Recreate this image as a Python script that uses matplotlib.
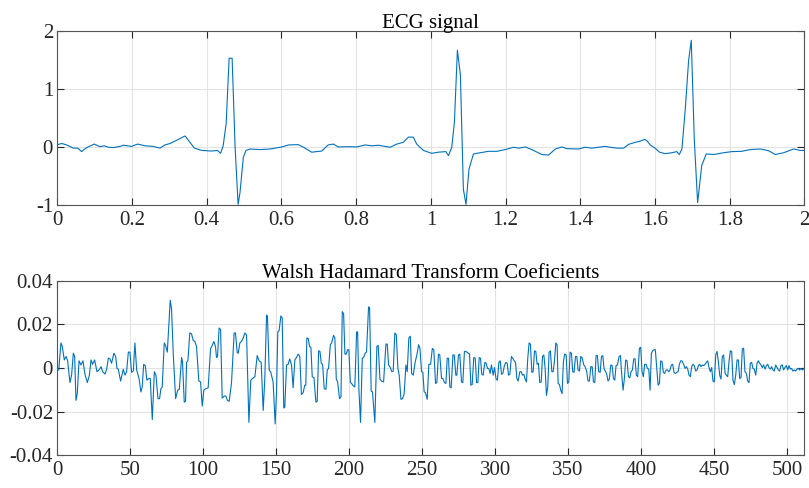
import numpy as np
import matplotlib
matplotlib.use("Agg")
import matplotlib.pyplot as plt

plt.rcParams["font.family"] = ["Liberation Serif", "DejaVu Serif"]
plt.rcParams["axes.unicode_minus"] = False

# ECG trace (time in s, amplitude), vertices
ecg_t = [0.0, 0.012, 0.025, 0.043, 0.055, 0.065, 0.079, 0.099, 0.114, 0.126, 0.137, 0.150,
         0.168, 0.177, 0.199, 0.215, 0.235, 0.257, 0.275, 0.288, 0.302, 0.324, 0.342, 0.367,
         0.387, 0.413, 0.429, 0.437, 0.444, 0.452, 0.460, 0.468, 0.476, 0.484, 0.489, 0.498,
         0.505, 0.516, 0.543, 0.570, 0.601, 0.619, 0.645, 0.659, 0.681, 0.708, 0.725, 0.739,
         0.752, 0.784, 0.801, 0.824, 0.842, 0.859, 0.891, 0.909, 0.926, 0.940, 0.953, 0.962,
         0.980, 0.998, 1.002, 1.020, 1.040, 1.047, 1.056, 1.063, 1.071, 1.079, 1.087, 1.094,
         1.102, 1.114, 1.132, 1.154, 1.177, 1.199, 1.221, 1.235, 1.253, 1.270, 1.297, 1.315,
         1.333, 1.351, 1.364, 1.395, 1.413, 1.431, 1.466, 1.480, 1.498, 1.516, 1.529, 1.547,
         1.560, 1.572, 1.578, 1.587, 1.600, 1.612, 1.627, 1.645, 1.658, 1.665, 1.672, 1.681,
         1.690, 1.697, 1.705, 1.714, 1.725, 1.737, 1.757, 1.783, 1.806, 1.832, 1.855, 1.882,
         1.904, 1.922, 1.944, 1.971, 1.989, 2.0]
ecg_v = [0.04, 0.06, 0.035, -0.02, -0.02, -0.08, -0.01, 0.05, 0.005, 0.02, -0.005, -0.01,
         0.01, 0.03, 0.01, 0.05, 0.02, 0.01, -0.02, 0.035, 0.06, 0.13, 0.19, -0.02,
         -0.06, -0.07, -0.06, -0.11, 0.02, 0.40, 1.53, 1.53, -0.01, -0.99, -0.79, -0.18,
         -0.06, -0.035, -0.045, -0.035, 0.0, 0.035, 0.04, -0.005, -0.09, -0.07, 0.035, 0.05,
         0.0, 0.005, 0.0, 0.035, 0.02, 0.03, -0.005, 0.05, 0.08, 0.17, 0.17, 0.05,
         -0.06, -0.10, -0.11, -0.09, -0.08, -0.15, -0.005, 0.43, 1.67, 1.24, -0.73, -0.99,
         -0.38, -0.12, -0.10, -0.075, -0.075, -0.045, -0.005, -0.02, 0.0, -0.045, -0.13, -0.14,
         -0.035, 0.0, -0.03, -0.035, -0.005, -0.02, 0.01, -0.005, -0.02, -0.02, 0.045, 0.08,
         0.10, 0.13, 0.11, 0.035, -0.02, -0.09, -0.115, -0.10, -0.08, -0.13, -0.035, 0.66,
         1.50, 1.84, 0.14, -0.96, -0.32, -0.12, -0.13, -0.10, -0.08, -0.075, -0.045, -0.035,
         -0.065, -0.13, -0.10, -0.035, -0.06, -0.06]

# Walsh-Hadamard coefficients: vertex index and value (x 1e-3)
wht_n = [1, 2.5, 3.4, 4.8, 6, 7.1, 8.7, 9.8, 11, 11.9, 12.8, 13.7, 14.9, 16.2, 17.6, 19,
         20.6, 22, 23.1, 24.2, 25.6, 27.2, 28.6, 30, 31.1, 32.7, 33.8, 35, 36.1, 37.2, 38.8,
         40, 40.9, 41.8, 43.4, 45.2, 46.4, 47.5, 48.7, 49.8, 50.9, 52.1, 53.2, 54.4, 56, 57.3,
         58.2, 59.2, 60.3, 61.4, 62.8, 63.7, 65.1, 66.5, 67.6, 69, 70.1, 71, 71.9, 73.3, 74.2,
         75.4, 77.4, 78.3, 79.5, 81.1, 82.5, 83.6, 85.2, 85.8, 87.0, 87.9, 88.6, 89.5, 90.8,
         92.0, 93.1, 94.3, 95.4, 97.0, 98.2, 99.3, 100.4, 101.8, 103.4, 105.0, 106.4, 107.3,
         108.4, 109.1, 109.8, 110.9, 111.9, 113.0, 114.4, 115.5, 116.6, 117.8, 119.4, 120.5,
         121.2, 122.1, 123.3, 124.0, 125.1, 126.2, 127.4, 128.5, 129.7, 131.3, 132.6, 133.8,
         135.4, 137.0, 138.3, 139.7, 141.1, 142.2, 143.4, 144.0, 145.2, 146.3, 147.9, 149.3,
         150.2, 151.1, 152.0, 153.2, 154.1, 155.2, 155.9, 157.1, 158.2, 159.3, 160.5, 161.6,
         162.8, 163.9, 165.1, 166.2, 167.3, 168.5, 169.6, 170.3, 171.0, 172.0, 172.9, 173.8,
         174.7, 175.9, 177.2, 178.1, 179.1, 180.0, 180.9, 181.8, 182.9, 184.1, 185.0, 185.9,
         187.1, 188.0, 189.3, 190.2, 191.2, 192.1, 193.4, 194.4, 195.3, 196.2, 197.1, 198.0,
         198.9, 199.8, 200.8, 201.7, 202.8, 203.9, 205.1, 205.8, 206.7, 207.8, 209.0, 209.9,
         211.0, 211.9, 213.3, 214.0, 215.1, 216.0, 217.6, 219.0, 219.9, 221.1, 222.2, 223.6,
         225.2, 226.1, 227.0, 227.9, 229.3, 230.2, 231.3, 232.3, 233.4, 234.3, 235.5, 236.6,
         237.7, 238.9, 239.8, 240.9, 241.9, 242.8, 243.9, 245.3, 246.4, 247.6, 248.5, 249.6,
         250.5, 251.4, 252.3, 253.5, 254.6, 255.8, 257.0, 258.0, 259.2, 260.1, 261.2, 262.1,
         263.3, 264.2, 265.3, 266.3, 267.2, 268.1, 269.0, 269.9, 271.1, 272.0, 273.1, 273.8,
         274.9, 275.8, 277.0, 277.9, 279.0, 280.0, 281.6, 282.5, 283.4, 284.3, 285.4, 286.4,
         287.3, 288.2, 289.1, 290.0, 290.9, 291.8, 293.0, 293.9, 294.8, 295.7, 296.6, 297.5,
         298.7, 299.6, 300.7, 301.6, 302.6, 303.5, 304.4, 305.3, 306.4, 307.4, 308.3, 309.2,
         310.1, 311.2, 312.1, 313.1, 314.0, 314.9, 315.8, 317.0, 317.9, 318.8, 319.7, 320.6,
         321.5, 322.4, 323.3, 324.2, 325.2, 326.1, 327.0, 327.9, 328.8, 329.7, 330.6, 331.6,
         332.5, 333.4, 334.3, 335.2, 336.1, 337.0, 337.9, 338.9, 339.8, 340.7, 341.6, 342.5,
         343.2, 344.1, 345.0, 345.9, 346.8, 347.7, 348.7, 349.6, 350.5, 351.4, 352.3, 353.2,
         354.1, 355.1, 356.0, 356.9, 357.8, 358.7, 359.6, 360.8, 361.7, 362.8, 363.7, 364.6,
         365.6, 366.5, 367.4, 368.3, 369.2, 370.1, 371.0, 372.0, 372.9, 373.8, 374.7, 375.6,
         376.5, 377.4, 378.3, 379.3, 380.2, 381.1, 382.0, 382.9, 383.8, 385.0, 385.9, 386.8,
         387.7, 388.6, 389.5, 390.4, 391.4, 392.3, 393.2, 394.1, 395.0, 395.9, 396.8, 397.7,
         398.9, 399.8, 400.7, 401.6, 402.5, 403.5, 404.4, 405.3, 406.2, 407.1, 408.0, 408.9,
         409.8, 410.8, 411.7, 412.6, 413.5, 414.4, 415.3, 416.2, 417.2, 418.1, 419.0, 419.9,
         420.8, 421.7, 422.6, 423.5, 424.5, 425.4, 426.3, 427.2, 428.1, 429.2, 430.2, 431.1,
         432.0, 432.9, 433.8, 434.7, 435.6, 436.5, 437.5, 438.4, 439.3, 440.2, 441.1, 442.0,
         442.9, 443.9, 444.8, 445.7, 446.6, 447.5, 448.4, 449.3, 450.2, 451.2, 452.1, 453.0,
         453.9, 454.8, 455.7, 456.6, 457.6, 458.5, 459.4, 460.3, 461.2, 462.1, 463.0, 463.9,
         464.9, 465.8, 466.7, 467.6, 468.5, 469.4, 470.3, 471.2, 472.2, 473.1, 474.0, 474.9,
         475.8, 476.7, 477.6, 478.6, 479.5, 480.4, 481.3, 482.2, 483.1, 484.0, 485.0, 485.9,
         486.8, 487.7, 488.6, 489.5, 490.4, 491.3, 492.3, 493.2, 494.1, 495.0, 495.9, 496.8,
         497.7, 498.6, 499.6, 500.5, 501.4, 502.3, 503.2, 504.1, 505.0, 506.0, 506.9, 507.8,
         508.7, 509.6, 510.5, 511.4, 512]
wht_milli = [-1, 11.5, 10, 3.7, 5.3, 3.3, -6.7, -3.3, 6.8, 5.3, -14.9, -11.8, 3.3, 1.4, 3.3, -3,
             -6.7, -3.3, 3.7, 1.7, 3.7, -1.7, -0.9, 0.6, -1.7, -2.8, -0.6, 4.5, 4.2, 2.2, 6.8,
             5.3, -0.2, -0.5, -6, -0.6, -3.3, -1.7, 7.3, 7.3, -2, -1.4, 11.5, -0.9, -4.8, -11,
             -8.7, 1.7, 1.1, -5.6, -4.8, -4.8, -23.7, -1.7, -3.3, -14.1, -14.1, -9.5, -8.8, 11.5, 10.4,
             7.3, 31.2, 27, 6, -14.1, -10.2, -9.8, 4.8, 2.9, -15.7, -15.3, 2.6, 3.3, 16.1,
             15.7, 12.7, 12.2, 9.9, -6.0, -6.4, -17.5, -10.2, -9.5, -9.1, 8.8, 10.7, 12.2,
             9.9, 4.8, 5.3, 18.4, 17.7, -13.8, -12.9, -12.9, -14.9, -15.3, -6.7, 7.3,
             16.1, 16.1, 7.1, 6.8, 11.5, 12.2, 13.8, 16.1, 15.3, -25.0, -5.6, -4.8,
             -4.0, 5.7, 3.3, 2.6, -19.5, -5.1, 24.3, 23.9, -0.9, -2.0, -6.4, -25.7,
             -11.8, 16.6, 17.2, 23.9, 23.1, -18.4, -18.0, 1.4, 1.7, 4.2, 1.4, -9.1,
             3.7, 4.8, 6.4, 5.3, -12.2, -11.3, -7.9, -7.9, 13.8, 13.5, 9.9, 9.5,
             -4.0, -4.5, -15.7, -15.3, 7.9, 7.6, 2.2, 1.7, -9.5, -9.8, -0.9, -0.2,
             10.7, 11.5, 15.0, 13.8, -5.1, -6.4, -14.1, -13.3, 25.9, 25.0, 6.4, 6.4,
             8.4, 8.4, -6.7, -7.1, -8.2, -8.7, 16.6, 16.6, -10.2, -25.0, 4.5, 4.8,
             6.8, 7.3, 28.1, 27.7, -10.7, -11.0, -25.0, 9.9, 10.4, -5.1, -6.0, -6.4,
             11.0, 11.0, 1.4, 0.6, -1.7, -1.4, 16.1, 15.3, -0.2, -3.3, -14.4, -14.1,
             -11.8, 1.4, -1.7, 13.8, 14.6, -2.5, -3.3, 2.9, 6.0, 10.7, 9.1, -1.7,
             -2.0, -11.0, -11.3, -14.4, 1.7, 1.7, 9.0, 8.4, -7.1, -6.7, 6.4, 6.0,
             -4.8, -4.8, -6.7, -7.1, 4.5, 4.5, -8.7, -9.1, 6.0, 6.0, -3.3, -3.3,
             6.0, 6.4, -6.4, -6.7, 7.6, 7.6, 6.8, 6.4, -7.9, -7.6, 4.8, 4.5,
             -6.7, -6.7, 4.8, 4.5, -2.9, -3.3, 2.6, 2.2, -0.2, -0.2, -2.5, 1.4,
             -3.3, 0.2, -5.1, -5.6, 2.6, 3.3, -2.9, -2.5, 1.1, 2.6, 2.2, -3.3,
             -2.9, 5.3, 4.5, 3.3, 2.6, -4.8, -6.0, -1.7, -1.7, -3.3, -2.9, -5.1,
             -6.4, 4.5, 11.5, 11.0, -2.0, -1.7, 7.9, 7.6, 1.7, 2.2, -6.7, -6.4,
             5.3, 6.0, -0.2, -12.6, -8.7, 7.3, 7.9, -1.7, -1.7, 3.3, 11.5, 10.7,
             -7.1, -7.6, -10.2, -11.8, 2.9, 6.4, 6.0, -7.1, -6.4, 7.3, 6.8, -1.7,
             -2.0, 5.3, 5.3, -0.9, -1.4, 5.3, 4.8, 1.4, 0.6, -1.7, -6.0, -6.0,
             0.6, 0.6, -6.4, -6.7, 5.7, 5.7, -1.7, -2.0, 5.3, 5.7, -0.5, -1.4,
             -2.9, -6.0, -5.1, 1.4, 1.1, -4.8, -5.6, 1.1, 1.4, 5.3, 5.7, -3.3,
             -10.2, -4.8, 3.7, 3.3, -4.0, -4.5, -1.7, -0.9, 4.2, 4.2, -3.3, -4.0,
             9.1, 9.5, -1.7, -4.0, 1.7, 1.7, -0.2, -0.5, -10.2, 6.8, 7.9, 8.4,
             8.4, -0.5, -7.9, -7.1, 3.3, 2.9, -2.0, -2.5, -0.9, -0.9, -1.7, -0.9,
             1.4, 1.7, -2.0, -2.5, -2.0, -1.7, 1.7, 3.3, 3.3, 1.7, -0.2, 0.6,
             -0.5, -3.3, -4.0, 0.6, 1.7, 1.1, -1.4, -0.9, 1.1, 1.7, 0.6, 1.4,
             1.1, 1.7, 2.6, 3.3, 0.2, -1.7, 0.2, -6.0, -6.4, 6.0, 7.6, 2.9,
             -3.3, -5.1, 5.3, 6.0, -2.5, -3.3, -4.0, 2.9, 7.9, 7.6, -5.6, -7.6,
             -3.3, 3.7, 3.7, -4.8, -4.5, 8.8, 9.1, -1.7, -2.5, -6.0, -6.7, 2.2,
             2.6, -0.2, -0.5, -3.3, 2.2, 3.3, 2.2, 1.4, 0.2, 1.4, -0.5, 1.1,
             1.7, 0.2, -0.5, 0.6, -0.9, -1.4, 1.4, 0.2, -0.9, -1.4, 1.1, 1.4,
             -0.9, 0.2, 1.1, -0.9, 1.1, -0.5, -0.2, -1.4, -0.9, -1.4, -0.5, -0.2,
             -0.9, -0.2, -0.9, -0.5, 0.2]

wht = np.array(wht_milli) / 1000.0

line_color = "#0072BD"
fs = 15

fig = plt.figure(figsize=(8.09, 4.88), dpi=100)
ax1 = fig.add_axes([0.0708, 0.580, 0.9236, 0.3565])
ax2 = fig.add_axes([0.0708, 0.0676, 0.9236, 0.3566])

def style(ax):
    ax.grid(True, color="#e3e3e3", linewidth=0.8)
    ax.set_axisbelow(True)
    for s in ax.spines.values():
        s.set_color("#555555")
        s.set_linewidth(0.8)
    ax.tick_params(direction="in", top=True, right=True, length=5, width=0.8,
                   colors="#262626", labelsize=fs, pad=4)
    ax.tick_params(axis="y", pad=3)

ax1.plot(ecg_t, ecg_v, color=line_color, linewidth=0.8)
ax1.set_xlim(0, 2)
ax1.set_ylim(-1, 2)
ax1.set_xticks(np.arange(0, 2.01, 0.2))
ax1.set_xticklabels(["0", "0.2", "0.4", "0.6", "0.8", "1", "1.2", "1.4", "1.6", "1.8", "2"])
ax1.set_yticks([-1, 0, 1, 2])
ax1.set_title("ECG signal", fontsize=fs, pad=2)
style(ax1)

ax2.plot(wht_n, wht, color=line_color, linewidth=0.8)
ax2.set_xlim(0, 512)
ax2.set_ylim(-0.04, 0.04)
ax2.set_xticks(np.arange(0, 501, 50))
ax2.set_yticks([-0.04, -0.02, 0, 0.02, 0.04])
ax2.set_yticklabels(["-0.04", "-0.02", "0", "0.02", "0.04"])
ax2.set_title("Walsh Hadamard Transform Coeficients", fontsize=fs, pad=2)
style(ax2)

fig.savefig("out.png", dpi=100)
